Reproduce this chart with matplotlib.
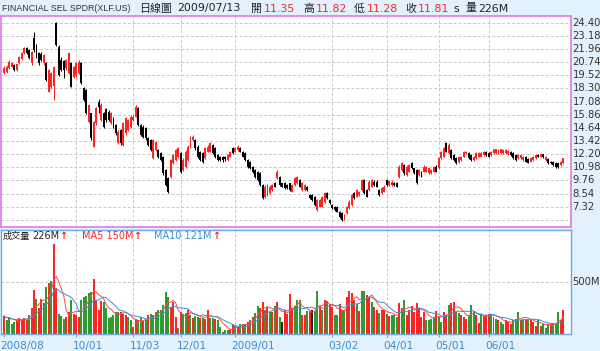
import matplotlib
matplotlib.use('Agg')
import matplotlib.pyplot as plt
import numpy as np
import pandas as pd
from matplotlib.transforms import blended_transform_factory

# ---------------- data ----------------
opens = [19.70,19.85,20.16,20.32,20.47,20.05,20.63,21.00,21.55,22.02,
         21.86,20.63,23.00,22.30,21.55,21.50,20.63,20.63,18.00,18.46,
         18.50,24.40,22.17,20.94,20.80,20.20,19.70,20.63,19.40,19.55,
         19.70,20.63,18.30,18.15,15.20,15.98,12.90,15.06,17.00,15.37,
         15.98,16.35,16.14,15.06,15.52,14.90,13.20,14.44,13.05,14.13,
         14.44,14.75,15.37,15.67,16.45,14.90,14.75,14.60,13.66,13.51,
         11.80,12.58,12.58,12.27,11.96,10.72,9.95,10.10,11.34,11.65,
         11.96,12.27,10.72,11.03,11.65,12.90,13.51,13.51,12.89,12.42,
         12.27,11.80,12.42,12.42,13.05,12.74,12.11,11.96,11.96,11.90,
         11.65,11.96,12.74,12.42,12.58,12.74,12.42,12.27,11.65,11.50,
         11.03,10.72,10.57,10.41,9.33,8.25,8.40,8.56,8.87,9.49,
         9.95,10.10,9.49,9.49,9.33,9.49,8.71,9.33,9.49,9.79,
         8.87,8.87,9.18,8.40,8.40,8.25,7.01,7.32,7.32,7.79,
         8.56,7.94,7.48,7.32,7.32,6.86,6.70,6.20,6.70,7.17,
         7.48,8.56,8.25,8.40,8.87,9.79,8.87,8.87,9.18,9.64,
         9.64,8.87,8.56,8.71,9.79,9.33,9.33,9.49,9.49,10.10,
         10.72,11.18,10.26,10.57,11.34,10.88,10.72,10.26,10.57,10.57,
         10.57,10.41,10.41,10.57,11.03,10.88,11.80,11.96,13.20,12.27,
         12.58,12.11,11.80,11.50,11.65,11.96,12.27,12.27,12.11,11.65,
         11.80,11.96,11.96,12.11,12.42,12.27,12.11,12.27,12.27,12.27,
         12.32,12.27,12.27,12.20,12.42,12.27,12.11,11.80,11.80,11.65,
         11.96,11.70,11.50,11.65,11.80,12.11,11.96,12.17,11.65,11.70,
         11.50,11.50,11.34,11.34,11.18,11.35]
highs = [20.35,20.45,20.90,20.75,20.55,20.60,21.35,21.65,22.15,22.10,
         21.95,21.80,23.55,22.40,21.65,21.70,21.50,20.75,20.10,19.80,
         20.40,24.50,22.30,21.20,20.90,21.00,21.60,20.75,20.40,20.70,
         20.90,20.75,18.40,18.20,16.85,16.05,15.30,16.60,17.30,16.90,
         16.10,16.50,16.30,16.10,15.65,15.00,14.40,14.55,15.20,15.65,
         15.50,15.80,15.80,16.75,16.55,15.00,14.90,14.70,13.80,13.60,
         13.60,13.45,12.70,12.40,12.05,10.80,10.05,11.75,12.20,12.70,
         12.85,12.40,11.80,12.55,13.00,13.90,13.95,13.60,13.00,12.50,
         12.35,12.85,13.00,13.30,13.15,12.85,12.20,12.05,12.00,12.00,
         12.20,12.50,12.85,12.90,13.00,12.85,12.50,12.35,11.75,11.60,
         11.10,10.80,10.65,10.50,9.40,9.30,9.45,9.30,9.45,9.60,
         10.70,10.20,9.55,9.60,9.45,9.55,9.45,10.05,10.20,9.90,
         9.60,9.45,9.25,8.50,8.50,8.35,8.05,8.05,8.35,8.65,
         8.65,8.00,7.55,7.40,7.40,6.95,6.80,6.60,7.40,7.90,
         8.50,8.65,8.95,8.80,9.90,9.90,8.95,9.75,9.90,9.75,
         9.75,8.95,9.10,9.30,9.90,9.80,9.75,9.60,9.60,11.15,
         11.50,11.30,11.15,11.30,11.45,10.95,10.80,10.85,10.65,11.15,
         11.10,10.95,10.80,11.10,11.15,11.90,12.50,12.85,13.30,13.20,
         12.70,12.20,11.90,12.05,12.05,12.50,12.50,12.35,12.20,12.05,
         12.35,12.35,12.35,12.50,12.50,12.35,12.50,12.70,12.70,12.65,
         12.70,12.65,12.65,12.60,12.50,12.35,12.20,12.20,12.20,12.05,
         12.05,11.80,11.90,12.05,12.20,12.20,12.25,12.25,12.05,11.80,
         11.60,11.60,11.45,11.40,11.60,11.82]
lows = [19.60,19.75,20.10,20.25,19.90,19.95,20.55,20.90,21.45,21.45,
        21.00,20.50,21.70,21.10,20.50,20.85,20.50,19.00,17.95,18.30,
        17.22,22.20,19.45,19.90,19.30,20.00,19.60,18.40,19.30,19.40,
        19.60,18.70,17.10,15.90,15.10,13.55,12.85,14.90,16.00,15.30,
        14.60,15.20,15.25,14.95,14.60,14.00,13.10,13.00,12.95,14.00,
        14.30,14.60,15.25,15.60,14.80,13.85,13.70,13.50,12.95,12.50,
        11.70,12.50,11.85,11.55,10.30,9.20,8.60,10.00,11.25,11.55,
        11.85,10.45,10.60,10.95,11.55,12.80,13.40,12.60,11.85,11.55,
        11.40,11.70,12.35,12.35,12.20,11.85,11.55,11.55,11.50,11.60,
        11.55,11.90,12.20,12.35,12.50,12.35,11.90,11.55,10.95,10.80,
        10.45,10.00,9.70,9.25,8.00,8.15,8.30,8.45,8.80,9.10,
        9.90,9.25,9.10,8.95,8.95,8.80,8.65,9.25,9.40,9.10,
        8.80,8.80,8.80,8.00,7.85,7.40,6.95,7.25,7.25,7.70,
        8.00,7.60,7.10,6.95,6.80,6.30,6.00,6.10,6.60,7.10,
        7.40,8.00,8.20,8.35,8.80,8.50,8.20,8.80,9.10,9.25,
        9.10,8.30,8.50,8.65,9.25,9.25,9.25,9.25,9.10,10.00,
        10.65,10.30,10.20,10.50,10.80,10.35,9.40,10.20,10.05,10.50,
        10.50,10.35,10.35,10.50,10.50,10.80,11.70,11.90,12.35,12.20,
        11.70,11.55,11.25,11.40,11.60,11.90,12.20,11.75,11.60,11.60,
        11.75,11.90,11.90,12.05,12.05,11.90,12.05,12.20,12.20,12.20,
        12.25,12.20,12.20,12.15,12.05,11.75,11.60,11.75,11.75,11.60,
        11.45,11.35,11.45,11.60,11.75,11.90,11.90,11.85,11.60,11.25,
        11.25,11.10,10.95,10.90,11.10,11.28]
closes = [20.16,20.32,20.78,20.63,20.01,20.53,21.25,21.55,22.02,21.55,
          21.10,21.70,21.86,21.25,20.63,20.95,21.40,19.08,20.00,19.70,
          20.30,22.35,19.55,20.00,20.00,20.94,21.55,18.46,20.32,20.63,
          20.78,18.77,17.22,15.98,16.75,13.66,15.20,16.45,16.60,16.75,
          14.75,15.37,15.37,15.98,14.75,14.13,14.28,13.20,15.06,15.52,
          15.37,15.67,15.67,16.60,14.90,13.97,13.82,13.66,13.05,12.58,
          13.51,13.36,11.96,11.65,10.41,9.33,8.71,11.65,12.11,12.58,
          12.74,10.57,11.65,12.42,12.89,13.82,13.75,12.74,11.96,11.65,
          11.50,12.74,12.89,13.20,12.27,11.96,11.65,11.65,11.65,11.70,
          12.11,12.42,12.27,12.80,12.89,12.42,11.96,11.65,11.03,10.88,
          10.57,10.10,9.79,9.33,8.10,9.18,9.33,9.18,9.33,9.18,
          10.57,9.33,9.18,9.02,9.02,8.87,9.33,9.95,10.10,9.18,
          9.49,9.33,8.87,8.10,7.94,7.48,7.94,7.94,8.25,8.56,
          8.10,7.70,7.17,7.01,6.86,6.39,6.08,6.50,7.32,7.79,
          8.40,8.10,8.87,8.71,9.79,8.56,8.25,9.64,9.79,9.33,
          9.18,8.40,9.02,9.18,9.33,9.70,9.64,9.33,9.18,11.03,
          11.34,10.41,11.03,11.18,10.88,10.41,9.49,10.72,10.10,11.03,
          11.03,10.88,10.72,11.03,10.57,11.80,12.42,12.74,12.42,13.05,
          11.80,11.65,11.34,11.96,11.96,12.42,12.42,11.80,11.65,11.96,
          12.27,12.27,12.27,12.42,12.11,11.96,12.42,12.64,12.64,12.58,
          12.64,12.58,12.58,12.52,12.11,11.80,11.65,12.11,12.11,11.96,
          11.50,11.40,11.80,11.96,12.11,11.96,12.17,11.90,11.96,11.34,
          11.34,11.18,11.03,11.03,11.50,11.81]
volumes = [172,136,163,97,114,130,156,130,156,136,
           185,244,424,332,244,336,293,457,496,515,
           872,440,189,169,146,163,212,326,195,179,
           163,326,352,365,398,408,528,326,228,319,
           310,244,153,163,179,212,212,212,195,185,
           163,130,64,146,130,163,120,130,179,189,
           185,212,228,234,277,408,359,261,310,163,
           58,212,195,202,234,179,156,169,163,156,
           156,146,228,153,153,146,130,64,16,32,
           32,48,91,71,71,91,91,97,114,136,
           163,202,267,244,310,234,254,212,212,267,
           310,163,114,228,195,385,244,267,326,326,
           179,179,221,221,228,221,414,267,228,326,
           319,287,261,185,185,287,228,221,359,417,
           398,326,287,221,417,417,375,359,310,254,
           234,202,234,228,195,169,179,179,163,300,
           244,326,179,234,267,212,293,244,163,212,
           130,136,146,163,221,163,114,212,179,277,
           300,310,212,202,179,163,146,179,277,221,
           179,104,179,169,179,189,195,163,146,130,
           114,97,130,114,97,136,146,212,136,146,
           136,130,136,114,71,130,71,97,58,97,
           91,104,91,212,136,226]
vol_colors = ("rggggrrrrr" "grrgrrggrg" "rrgggrrgrr" "rgggggrrrr" "gggggggrrr"
              "ggrrggrgrg" "gggggggrrr" "grggrgrggr" "grrggrggrg" "grrgrgrgrg"
              "rggrrgrgrg" "rgkrrrrggg" "rrgrkggrgr" "grrggrggrr" "rrgrggrrgr"
              "rgrrgrgggr" "ggrrrrrrrr" "ggggrggrrg" "rrggrrrggg" "rrgrrrgrgr"
              "ggrrrgggrg" "rgrrrgrggg" "rgggrr")

date_tick_idx = [0, 29, 52, 71, 93, 132, 154, 175, 195]
date_tick_labels = ['2008/08', '10/01', '11/03', '12/01', '2009/01',
                    '03/02', '04/01', '05/01', '06/01']
price_ticks = [24.40, 23.18, 21.96, 20.74, 19.52, 18.30, 17.08, 15.86,
               14.64, 13.42, 12.20, 10.98, 9.76, 8.54, 7.32]
price_tick_labels = ['24.40', '23.18', '21.96', '20.74', '19.52', '18.30', '17.08',
                     '15.86', '14.64', '13.42', '12.20', '10.98', '9.76', '8.54', '7.32']
price_grid_extra = [6.10]
vol_label_total = '226M'
vol_label_ma5 = '150M'
vol_label_ma10 = '121M'
title_name = 'FINANCIAL SEL SPDR(XLF.US)'
title_date = '2009/07/13'
title_open, title_high, title_low, title_close, title_vol = '11.35', '11.82', '11.28', '11.81', '226M'

# ---------------- style ----------------
RED = '#ff2424'
GREEN = '#2f9a2f'
BLUE_TXT = '#3a8fd6'
BG = '#e2f1fb'
GRID = '#c9c9c9'
CJK = ['DejaVu Sans', 'Noto Sans CJK TC']

W, H = 600, 351
fig = plt.figure(figsize=(W / 100, H / 100), dpi=100)
fig.patch.set_facecolor(BG)

def px_x(x):
    return x / W

def px_y(y):
    return 1 - y / H

p_top, p_bot = 15.5, 227.0
v_top, v_bot = 230.0, 333.5
ax_left, ax_right = 1.0, 571.0
axp = fig.add_axes([px_x(ax_left), px_y(p_bot), (ax_right - ax_left) / W, (p_bot - p_top) / H])
axv = fig.add_axes([px_x(ax_left), px_y(v_bot), (ax_right - ax_left) / W, (v_bot - v_top) / H])

N = len(closes)
x = np.arange(N)
o = np.array(opens); hi = np.array(highs); lo = np.array(lows); c = np.array(closes)
xlim = (-1.29, 228.2)

for ax in (axp, axv):
    ax.set_facecolor('white')
    ax.set_xlim(*xlim)
    ax.tick_params(left=False, right=False, labelleft=False, labelbottom=False, top=False)

# price panel grid
for g in price_ticks + price_grid_extra:
    axp.axhline(g, color=GRID, lw=0.7, ls=(0, (3, 2)), zorder=0)
for t in date_tick_idx[1:]:
    axp.axvline(t, color=GRID, lw=0.7, ls=(0, (3, 2)), zorder=0)
    axv.axvline(t, color=GRID, lw=0.7, ls=(0, (3, 2)), zorder=0)
axv.axhline(500, color=GRID, lw=0.7, ls=(0, (3, 2)), zorder=0)

# candles
up = c >= o
ccol = np.where(up, RED, '#000000')
axp.vlines(x, lo, hi, colors=ccol, lw=0.75, zorder=2)
body = np.maximum(np.abs(c - o), 0.05)
axp.bar(x, body, bottom=np.minimum(o, c), width=0.78, color=ccol, linewidth=0, zorder=3)
axp.set_ylim(5.43, 25.07)
axp.set_xticks([])
for s in axp.spines.values():
    s.set_color('#e07ae0'); s.set_linewidth(1.2)

tp = blended_transform_factory(axp.transAxes, axp.transData)
for v, lab in zip(price_ticks, price_tick_labels):
    axp.text(1.0 + 1.5 / 570, v, lab, transform=tp, ha='left', va='center',
             fontsize=7.2, color='#333333', clip_on=False)

# volume panel
cmap = {'r': RED, 'g': GREEN, 'k': '#222222'}
vcols = [cmap[ch] for ch in vol_colors]
axv.bar(x, volumes, width=0.8, color=vcols, linewidth=0, zorder=2)
vs = pd.Series(volumes, dtype=float)
ma5 = vs.rolling(5, min_periods=1).mean()
ma10 = vs.rolling(10, min_periods=1).mean()
axv.plot(x, ma5, color='#ff4a4a', lw=0.7, zorder=3)
axv.plot(x, ma10, color='#3d8ddb', lw=0.7, zorder=3)
axv.set_ylim(0, 1010)
axv.set_xticks(date_tick_idx)
axv.set_xticklabels([''] * len(date_tick_idx))
axv.tick_params(axis='x', bottom=True, direction='out', length=2.5, color='#6fa8dc', width=0.8)
for s in axv.spines.values():
    s.set_color('#6fa8dc'); s.set_linewidth(1.0)

tv = blended_transform_factory(axv.transAxes, axv.transData)
axv.text(1.0 + 1.5 / 570, 500, '500M', transform=tv, ha='left', va='center',
         fontsize=7.2, color='#333333', clip_on=False)

for t, lab in zip(date_tick_idx, date_tick_labels):
    axv.annotate(lab, xy=(t, 0), xycoords=('data', 'axes fraction'),
                 xytext=(-3.5 * 0.72, -13.0 * 0.72), textcoords='offset points',
                 ha='left', va='center', fontsize=7.6, color=BLUE_TXT, annotation_clip=False)

# volume legend
ly = px_y(236.0)
fig.text(px_x(2.5), ly, '成交量', fontsize=6.6, color='#222222', family=CJK, va='center')
fig.text(px_x(32.0), ly, vol_label_total, fontsize=7, color='#222222', va='center')
fig.text(px_x(59.5), ly, '↑', fontsize=7, color=RED, va='center', weight='bold')
fig.text(px_x(82), ly, 'MA5 ' + vol_label_ma5, fontsize=7, color=RED, va='center')
fig.text(px_x(133.5), ly, '↑', fontsize=7, color=RED, va='center', weight='bold')
fig.text(px_x(154), ly, 'MA10 ' + vol_label_ma10, fontsize=7, color='#3d8ddb', va='center')
fig.text(px_x(212.5), ly, '↑', fontsize=7, color=RED, va='center', weight='bold')

# title row
ty = px_y(8.5)
fig.text(px_x(2), ty, title_name, fontsize=6.4, color='#333333', va='center',
         family=['Liberation Sans', 'DejaVu Sans'])
parts = [(139, '日線圖', '#222222'), (177, title_date, '#222222'),
         (251, '開', '#222222'), (264, title_open, RED),
         (303, '高', '#222222'), (316, title_high, RED),
         (354, '低', '#222222'), (367, title_low, RED),
         (405, '收', '#222222'), (418, title_close, RED),
         (453, 's', '#222222'), (465, '量', '#222222'), (478, title_vol, '#222222')]
for xp, txt, col in parts:
    fig.text(px_x(xp), ty, txt, fontsize=7.9, color=col, va='center', family=CJK)

fig.savefig('out.png', dpi=100, facecolor=BG)
